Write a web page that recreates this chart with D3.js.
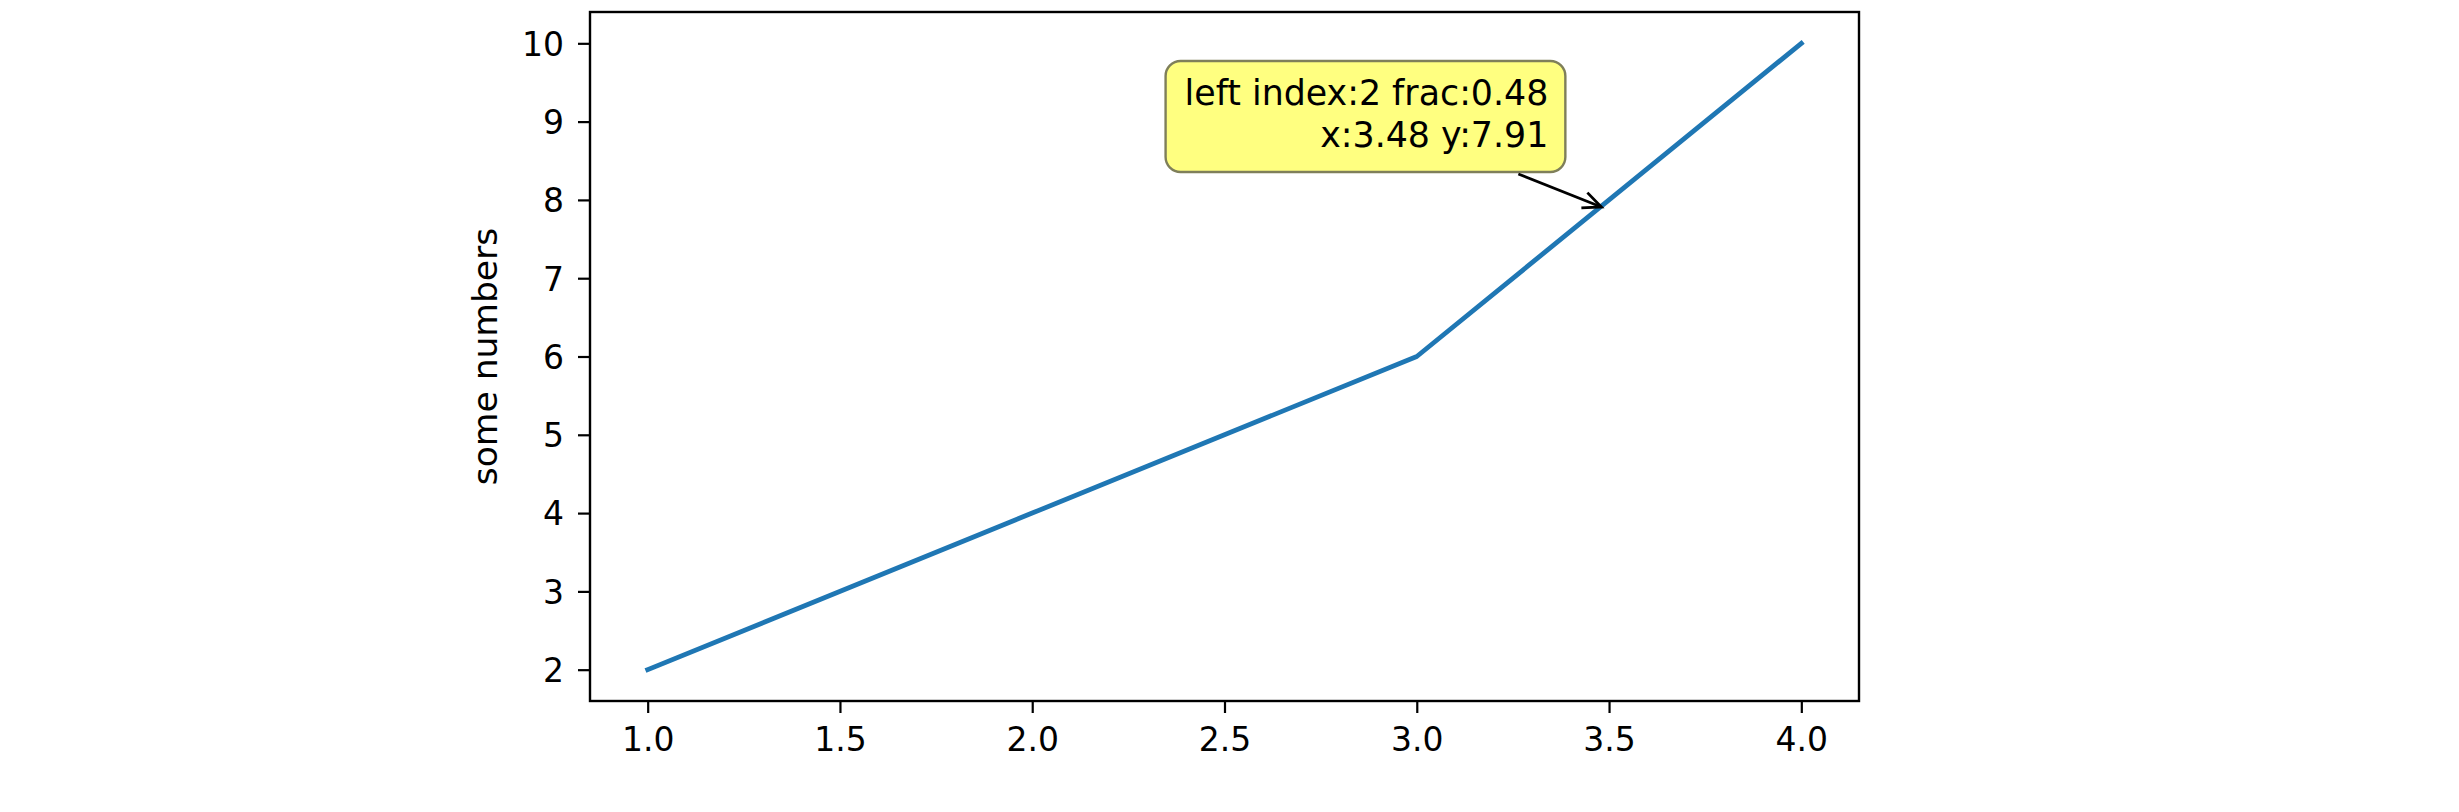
<!DOCTYPE html>
<html>
<head>
<meta charset="utf-8">
<script src="https://cdn.jsdelivr.net/npm/d3@7"></script>
<style>
  html, body { margin: 0; padding: 0; background: #fff; }
  svg { display: block; }
  text { font-family: "DejaVu Sans", sans-serif; fill: #000; }
</style>
</head>
<body>
<svg id="chart" width="2459" height="812"></svg>
<script>
// ---- data ----
const xValues = [1, 2, 3, 4];
const yValues = [2, 4, 6, 10];
const xTicks = [1.0, 1.5, 2.0, 2.5, 3.0, 3.5, 4.0];
const yTicks = [2, 3, 4, 5, 6, 7, 8, 9, 10];
const yLabel = "some numbers";
const annotPoint = [3.48, 7.91];
const annotLines = ["left index:2 frac:0.48", "x:3.48 y:7.91"];

// ---- layout ----
const W = 2459, H = 812;
const plot = { left: 590, right: 1859, top: 12, bottom: 701 };
const svg = d3.select("#chart");

const x = d3.scaleLinear().domain([0.85, 4.15]).range([plot.left, plot.right]);
const y = d3.scaleLinear().domain([1.6, 10.4]).range([plot.bottom, plot.top]);

const fontSize = 33;
const tickLen = 12;

// axes
const xAxis = d3.axisBottom(x).tickValues(xTicks).tickFormat(d3.format(".1f"))
  .tickSizeInner(tickLen).tickSizeOuter(0).tickPadding(12);
const yAxis = d3.axisLeft(y).tickValues(yTicks).tickFormat(d3.format("d"))
  .tickSizeInner(tickLen).tickSizeOuter(0).tickPadding(14);

const gx = svg.append("g").attr("transform", `translate(0,${plot.bottom})`).call(xAxis);
const gy = svg.append("g").attr("transform", `translate(${plot.left},0)`).call(yAxis);
[gx, gy].forEach(g => {
  g.select(".domain").remove();
  g.selectAll(".tick line").attr("stroke", "#000").attr("stroke-width", 2.2);
  g.selectAll(".tick text").attr("font-size", fontSize)
    .attr("font-family", "DejaVu Sans").attr("fill", "#000");
});
gy.selectAll(".tick text").attr("dy", "0.36em");
gx.selectAll(".tick text").attr("dy", "0.78em");

// line
const line = d3.line().x((d, i) => x(xValues[i])).y(d => y(d));
svg.append("path").datum(yValues)
  .attr("d", line)
  .attr("fill", "none")
  .attr("stroke", "#1f77b4")
  .attr("stroke-width", 4.8)
  .attr("stroke-linecap", "square")
  .attr("stroke-linejoin", "round");

// frame
svg.append("rect")
  .attr("x", plot.left).attr("y", plot.top)
  .attr("width", plot.right - plot.left).attr("height", plot.bottom - plot.top)
  .attr("fill", "none").attr("stroke", "#000").attr("stroke-width", 2.4);

// y label
svg.append("text")
  .attr("transform", `translate(497,${(plot.top + plot.bottom) / 2}) rotate(-90)`)
  .attr("text-anchor", "middle")
  .attr("font-size", 34.5)
  .text(yLabel);

// annotation
const px = x(annotPoint[0]), py = y(annotPoint[1]);
const textRight = px - 53;
const base1 = py - 102;
const lineGap = 42;

const ag = svg.append("g");
const boxRect = ag.append("rect");
const tEl = ag.append("text")
  .attr("text-anchor", "end")
  .attr("font-size", 34.8);
annotLines.forEach((s, i) => {
  tEl.append("tspan").attr("x", textRight).attr("y", base1 + i * lineGap).text(s);
});
const bb = tEl.node().getBBox();
const bx0 = bb.x - 19, bx1 = textRight + 17;
const by0 = base1 - 44, by1 = base1 + lineGap + 25;
boxRect.attr("x", bx0).attr("y", by0)
  .attr("width", bx1 - bx0).attr("height", by1 - by0)
  .attr("rx", 15).attr("ry", 15)
  .attr("fill", "#ffff80")
  .attr("stroke", "#7f7f5a").attr("stroke-width", 2.4);

// arrow
const sx = bx1 - 47, sy = by1 + 2;
const ang = Math.atan2(py - sy, px - sx);
const hl = 20, ha = 0.42;
ag.append("line").attr("x1", sx).attr("y1", sy).attr("x2", px).attr("y2", py)
  .attr("stroke", "#000").attr("stroke-width", 2.8);
ag.append("path")
  .attr("d", `M${px - hl * Math.cos(ang - ha)},${py - hl * Math.sin(ang - ha)} L${px},${py} L${px - hl * Math.cos(ang + ha)},${py - hl * Math.sin(ang + ha)}`)
  .attr("fill", "none").attr("stroke", "#000").attr("stroke-width", 2.8)
  .attr("stroke-linejoin", "miter");
</script>
</body>
</html>
